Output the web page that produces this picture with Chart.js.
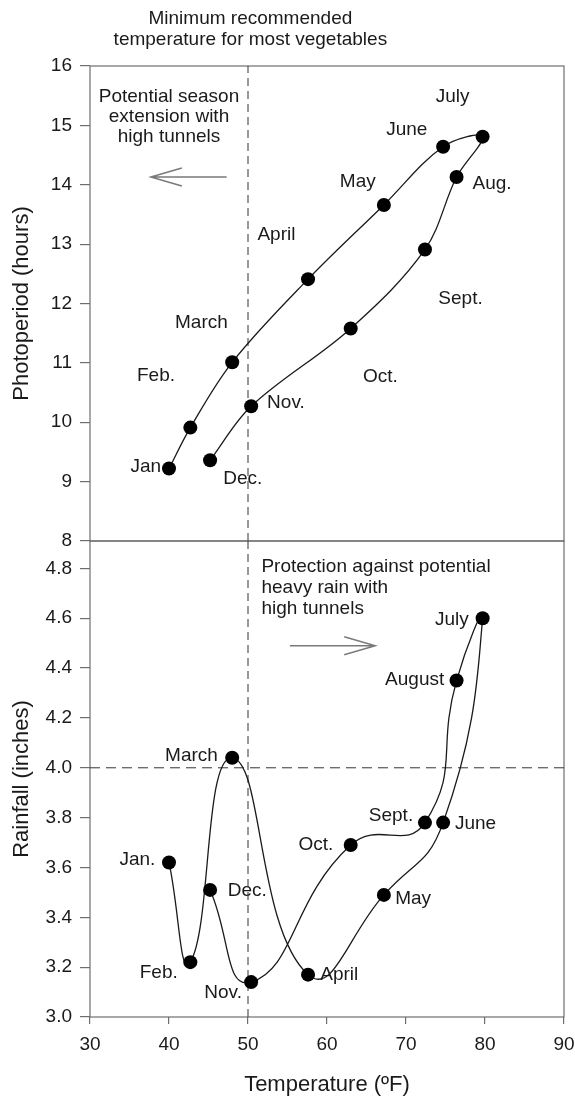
<!DOCTYPE html>
<html>
<head>
<meta charset="utf-8">
<script src="https://cdn.jsdelivr.net/npm/chart.js@4.4.1/dist/chart.umd.min.js"></script>
<style>
  html, body { margin: 0; padding: 0; background: #fff; overflow: hidden; }
  #wrap { position: relative; width: 575px; height: 1097px; }
  #topChart { position: absolute; left: 0; top: 0; }
  #bottomChart { position: absolute; left: 0; top: 521px; }
</style>
</head>
<body>
<div id="wrap">
  <canvas id="topChart" width="575" height="570"></canvas>
  <canvas id="bottomChart" width="575" height="576"></canvas>
</div>
<script>
// --- data ---
const temperature = [40, 42.7, 48, 57.6, 67.2, 74.7, 79.7, 76.4, 72.4, 63, 50.4, 45.2];
const photoperiod = [9.22, 9.91, 11.01, 12.41, 13.66, 14.64, 14.81, 14.13, 12.91, 11.58, 10.27, 9.36];
const rainfall = [3.62, 3.22, 4.04, 3.17, 3.49, 3.78, 4.60, 4.35, 3.78, 3.69, 3.14, 3.51];

const photoMonthNames = ['Jan.', 'Feb.', 'March', 'April', 'May', 'June', 'July', 'Aug.', 'Sept.', 'Oct.', 'Nov.', 'Dec.'];
const rainMonthNames = ['Jan.', 'Feb.', 'March', 'April', 'May', 'June', 'July', 'August', 'Sept.', 'Oct.', 'Nov.', 'Dec.'];

// where each month name sits (temperature, value)
const photoNameAt = [[37.4, 9.25], [38.35, 10.78], [44.1, 11.68], [53.6, 13.15], [63.9, 14.05], [70.1, 14.92],
                     [75.9, 15.48], [80.9, 14.02], [76.9, 12.08], [66.75, 10.76], [54.8, 10.32], [49.35, 9.04]];
const rainNameAt = [[36.0, 3.629], [38.7, 3.178], [42.85, 4.048], [61.55, 3.171], [70.9, 3.475], [78.8, 3.776],
                    [75.8, 4.595], [71.1, 4.352], [68.1, 3.806], [58.6, 3.692], [46.85, 3.096], [49.9, 3.506]];

const tempTicks = [30, 40, 50, 60, 70, 80, 90];
const photoTicks = [8, 9, 10, 11, 12, 13, 14, 15, 16];
const rainTicks = [3.0, 3.2, 3.4, 3.6, 3.8, 4.0, 4.2, 4.4, 4.6, 4.8];
const rainTop = 4.91;

const minVegTemp = 50;   // dashed vertical line
const heavyRain = 4.0;   // dashed horizontal line

const FONT = '"Liberation Sans", Arial, sans-serif';
const INK = '#1a1a1a';
const FRAME = '#6e6e6e';

// Helper: text + arrows + frame, drawn before the datasets so markers sit on top
function annotate(cfg) {
  return {
    id: 'annotate',
    beforeDatasetsDraw(chart) {
      const { ctx, chartArea: a, scales: { x, y } } = chart;
      ctx.save();
      ctx.strokeStyle = FRAME;
      ctx.lineWidth = 1.2;
      ctx.strokeRect(a.left, a.top, a.right - a.left, a.bottom - a.top);

      ctx.fillStyle = INK;
      ctx.font = '19px ' + FONT;
      ctx.textBaseline = 'middle';
      cfg.texts.forEach(t => {
        ctx.textAlign = t.align || 'center';
        ctx.fillText(t.text, x.getPixelForValue(t.at[0]), y.getPixelForValue(t.at[1]));
      });

      ctx.strokeStyle = '#7a7a7a';
      ctx.lineWidth = 1.5;
      cfg.arrows.forEach(ar => {
        const x0 = x.getPixelForValue(ar.from[0]), y0 = y.getPixelForValue(ar.from[1]);
        const x1 = x.getPixelForValue(ar.to[0]), y1 = y.getPixelForValue(ar.to[1]);
        const dir = Math.sign(x1 - x0);
        ctx.beginPath();
        ctx.moveTo(x0, y0); ctx.lineTo(x1, y1);
        ctx.moveTo(x1 - dir * 31, y1 - 9); ctx.lineTo(x1, y1); ctx.lineTo(x1 - dir * 31, y1 + 9);
        ctx.stroke();
      });
      ctx.restore();
    }
  };
}

const tickFont = { family: FONT, size: 19 };
const titleFont = { family: FONT, size: 22, lineHeight: 1.1 };

const yAxis = (ticks, min, max, title, fmt) => ({
  min: min, max: max,
  afterBuildTicks: s => { s.ticks = ticks.map(v => ({ value: v })); },
  afterFit: s => { s.width = 90; s.paddingTop = 0; s.paddingBottom = 0; },
  ticks: { color: INK, font: tickFont, padding: 8, callback: fmt },
  grid: { drawOnChartArea: false, tickLength: 10, color: FRAME, lineWidth: 1.2 },
  border: { display: false },
  title: { display: true, text: title, color: INK, font: titleFont, padding: { top: 9.5, bottom: 0 } }
});

const curve = (xs, ys, tension) => ({
  data: xs.map((t, i) => ({ x: t, y: ys[i] })),
  showLine: true,
  tension: tension,
  borderColor: INK,
  borderWidth: 1.3,
  pointRadius: 7,
  pointBackgroundColor: '#000',
  pointBorderWidth: 0
});

const dashed = (pts, dash) => ({
  data: pts,
  showLine: true,
  borderColor: '#333',
  borderWidth: 1,
  borderDash: dash,
  pointRadius: 0
});

const common = {
  responsive: false,
  animation: false,
  elements: { line: { capBezierPoints: false } },
  plugins: { legend: { display: false }, tooltip: { enabled: false } }
};

// --- A. Photoperiod vs temperature ---
new Chart(document.getElementById('topChart'), {
  type: 'scatter',
  data: {
    datasets: [
      curve(temperature, photoperiod, 0.35),
      dashed([{ x: minVegTemp, y: photoTicks[0] }, { x: minVegTemp, y: photoTicks[photoTicks.length - 1] }], [8, 5])
    ]
  },
  options: {
    ...common,
    layout: { padding: { top: 66, right: 11, bottom: 29, left: 0 } },
    scales: {
      x: { type: 'linear', display: false, min: tempTicks[0], max: tempTicks[tempTicks.length - 1] },
      y: yAxis(photoTicks, 8, 16, 'Photoperiod (hours)', v => v)
    }
  },
  plugins: [annotate({
    texts: photoMonthNames.map((n, i) => ({ text: n, at: photoNameAt[i] })).concat([
      { text: 'Minimum recommended', at: [50.3, 16.80] },
      { text: 'temperature for most vegetables', at: [50.3, 16.45] },
      { text: 'Potential season', at: [40.0, 15.48] },
      { text: 'extension with', at: [40.0, 15.14] },
      { text: 'high tunnels', at: [40.0, 14.81] }
    ]),
    arrows: [{ from: [47.3, 14.13], to: [37.7, 14.13] }]
  })]
});

// --- B. Rainfall vs temperature ---
new Chart(document.getElementById('bottomChart'), {
  type: 'scatter',
  data: {
    datasets: [
      curve(temperature, rainfall, 0.5),
      dashed([{ x: minVegTemp, y: rainTicks[0] }, { x: minVegTemp, y: rainTop }], [8, 5]),
      dashed([{ x: tempTicks[0], y: heavyRain }, { x: tempTicks[tempTicks.length - 1], y: heavyRain }], [10, 6])
    ]
  },
  options: {
    ...common,
    layout: { padding: { top: 20, right: 11, bottom: 0, left: 0 } },
    scales: {
      x: {
        type: 'linear', min: tempTicks[0], max: tempTicks[tempTicks.length - 1],
        afterBuildTicks: s => { s.ticks = tempTicks.map(v => ({ value: v })); },
        afterFit: s => { s.height = 80; s.paddingLeft = 0; s.paddingRight = 0; },
        ticks: { color: INK, font: tickFont, padding: 9, maxRotation: 0 },
        grid: { drawOnChartArea: false, tickLength: 7, color: FRAME, lineWidth: 1.2 },
        border: { display: false },
        title: { display: true, text: 'Temperature (ºF)', color: INK, font: titleFont, padding: { top: 0, bottom: 0 } }
      },
      y: yAxis(rainTicks, 3.0, rainTop, 'Rainfall (inches)', v => v.toFixed(1))
    }
  },
  plugins: [annotate({
    texts: rainMonthNames.map((n, i) => ({ text: n, at: rainNameAt[i] })).concat([
      { text: 'Protection against potential', at: [51.7, 4.806], align: 'left' },
      { text: 'heavy rain with', at: [51.7, 4.722], align: 'left' },
      { text: 'high tunnels', at: [51.7, 4.639], align: 'left' }
    ]),
    arrows: [{ from: [55.3, 4.49], to: [66.1, 4.49] }]
  })]
});
</script>
</body>
</html>
